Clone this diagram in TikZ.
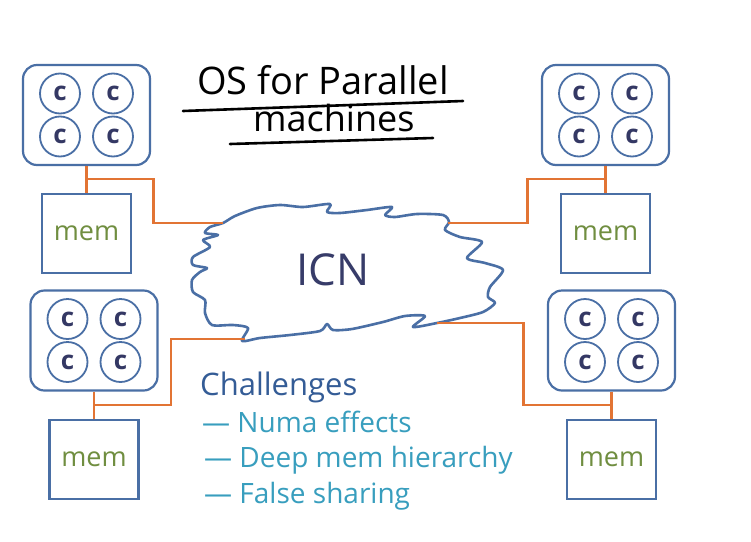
\documentclass[tikz,border=0pt]{standalone}
\usepackage{fontspec}
\setmainfont{Open Sans}
\usepackage{tikz}
\usetikzlibrary{positioning}
\definecolor{boxblue}{RGB}{74,111,165}
\definecolor{wireorange}{RGB}{226,116,52}
\definecolor{coreink}{RGB}{52,56,100}
\definecolor{memgreen}{RGB}{112,142,64}
\definecolor{icnink}{RGB}{55,60,105}
\definecolor{chalblue}{RGB}{52,92,150}
\definecolor{itemteal}{RGB}{56,158,190}

\begin{document}
\begin{tikzpicture}[x=1pt,y=-1pt,
    chip/.style={draw=boxblue,line width=2.2pt,rounded corners=14pt,minimum width=127pt,minimum height=100pt},
    core/.style={draw=boxblue,line width=1.8pt,circle,minimum size=40pt,inner sep=0pt,text=coreink,font=\fontsize{26}{26}\selectfont\bfseries},
    mem/.style={draw=boxblue,line width=2.2pt,minimum width=89pt,minimum height=79pt,text=memgreen,font=\fontsize{27}{27}\selectfont},
    wire/.style={draw=wireorange,line width=2.2pt},
    hand/.style={inner sep=0pt,anchor=base west},
    title/.style={hand,font=\fontsize{38}{40}\selectfont},
    underline/.style={line width=2.6pt,line cap=round}]
  \fill[white] (0,0) rectangle (751,541);
  \useasboundingbox (0,0) rectangle (751,541);

  \def\cloud{plot[smooth cycle,tension=0.45] coordinates {
    (223,223) (235,216) (257,208) (280,205) (303,207) (330,204) (327,212) (340,213)
    (367,210) (392,207) (385,215) (395,217) (417,214) (443,215) (449,222) (445,230)
    (460,237) (482,242) (467,258) (485,263) (503,270) (490,287) (488,297) (495,303)
    (483,312) (460,318) (437,323) (413,327) (425,316) (405,316) (383,322) (352,329)
    (333,330) (327,324) (320,331) (290,335) (260,338) (242,341) (248,328) (233,325)
    (212,325) (205,313) (205,300) (193,292) (192,280) (200,272) (207,268) (193,265)
    (193,257) (210,247) (203,240) (218,235) (205,233) (210,227)}}

  \foreach \n/\x/\y in {1/86.5/115, 2/605.5/115, 3/94/340.5, 4/611.5/340.5} {
    \node[chip] (chip\n) at (\x,\y) {};
    \foreach \dx/\dy [count=\k] in {-26.5/-21.5, 26.5/-21.5, -26.5/21.5, 26.5/21.5}
      \node[core] (core\n\k) at ([shift={(\dx,\dy)}]chip\n.center) {c};
    \node[mem,below=27pt of chip\n] (mem\n) {mem};
    \draw[wire] (chip\n) -- (mem\n);
    \coordinate (j\n) at ([yshift=-13pt]chip\n.south);
  }

  \draw[boxblue,line width=2.6pt,line join=round] \cloud;
  \node[hand,anchor=base,text=icnink,font=\fontsize{44}{44}\selectfont] (icn) at (333,285) {ICN};

  \coordinate (c1) at (223,223);
  \coordinate (c2) at (448,223);
  \coordinate (c3) at (245,339);
  \coordinate (c4) at (437,323);
  \draw[wire] (j1) -- ++(67,0) |- (c1);
  \draw[wire] (j2) -- ++(-78,0) |- (c2);
  \draw[wire] (j3) -- ++(77,0) |- (c3);
  \draw[wire] (j4) -- ++(-88,0) |- (c4);

  \node[title] (title1) at (197,94) {OS for Parallel};
  \node[title,font=\fontsize{36}{38}\selectfont] (title2) at (253,131) {machines};
  \draw[underline] (183,111) -- (463,101);
  \draw[underline] (230,144) -- (433,138);

  \node[hand,text=chalblue,font=\fontsize{31}{33}\selectfont] (chal) at (200,395) {Challenges};
  \node[hand,text=itemteal,font=\fontsize{28}{30}\selectfont] (item1) at (202,432) {— Numa effects};
  \node[hand,text=itemteal,font=\fontsize{28}{30}\selectfont] (item2) at (204,467) {— Deep mem hierarchy};
  \node[hand,text=itemteal,font=\fontsize{28}{30}\selectfont] (item3) at (204,503) {— False sharing};
\end{tikzpicture}
\end{document}
